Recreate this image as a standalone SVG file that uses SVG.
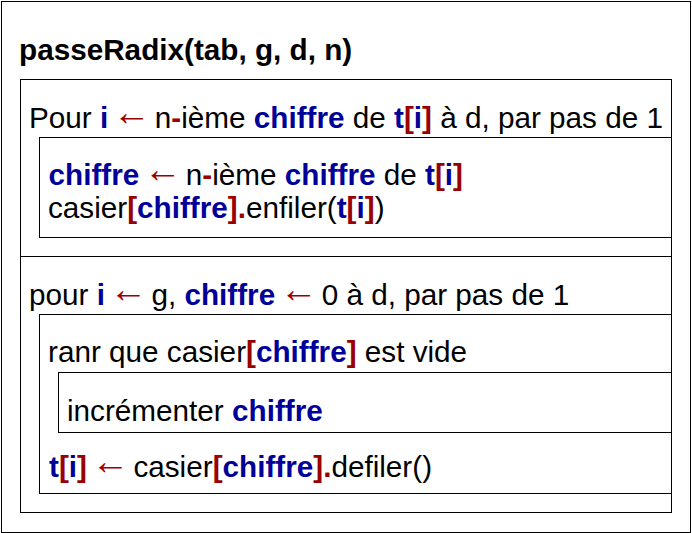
<svg xmlns="http://www.w3.org/2000/svg" width="692" height="533" viewBox="0 0 692 533">
  <style>
    .frame { fill: #fff; stroke: #000; stroke-width: 1; }
    .rule { stroke: #000; stroke-width: 1; }
    text { font-family: "Liberation Sans", Arial, sans-serif; font-size: 29.7px; fill: #000; }
    .title { font-weight: bold; }
    .v { fill: #000099; font-weight: bold; }
    .k { fill: #990000; font-weight: bold; }
    .a { fill: #990000; font-size: 38px; }
  </style>

  <!-- procedure frame -->
  <g id="procedure">
    <rect class="frame" x="1.5" y="1.5" width="689" height="531"/>
    <text class="title" x="19" y="60">passeRadix(tab, g, d, n)</text>
  </g>

  <!-- sequence of the two loops -->
  <g id="sequence">
    <rect class="frame" x="20.5" y="79.5" width="651" height="433"/>
    <line class="rule" x1="20.5" y1="256.5" x2="671.5" y2="256.5"/>
  </g>

  <!-- first loop: distribution into the buckets (arrows are set larger, gaps folded into dx) -->
  <g id="loop-distribute">
    <text x="29" y="128">Pour <tspan class="v">i</tspan><tspan class="a" dx="4.25" dy="-3">←</tspan><tspan dx="4.25" dy="3">n</tspan><tspan class="k">-</tspan>ième <tspan class="v">chiffre</tspan> de <tspan class="v">t</tspan><tspan class="k">[</tspan><tspan class="v">i</tspan><tspan class="k">]</tspan> à d, par pas de 1</text>
    <rect class="frame" x="39.5" y="137.5" width="632" height="100"/>
  </g>
  <g id="stmt-digit">
    <text x="48.5" y="185"><tspan class="v">chiffre</tspan><tspan class="a" dx="4.25" dy="-3">←</tspan><tspan dx="4.25" dy="3">n</tspan><tspan class="k">-</tspan>ième <tspan class="v">chiffre</tspan> de <tspan class="v">t</tspan><tspan class="k">[</tspan><tspan class="v">i</tspan><tspan class="k">]</tspan></text>
  </g>
  <g id="stmt-enqueue">
    <text x="48" y="218">casier<tspan class="k">[</tspan><tspan class="v">chiffre</tspan><tspan class="k">].</tspan>enfiler(<tspan class="v">t</tspan><tspan class="k">[</tspan><tspan class="v">i</tspan><tspan class="k">]</tspan>)</text>
  </g>

  <!-- second loop: collection from the buckets -->
  <g id="loop-collect">
    <text x="29" y="305">pour <tspan class="v">i</tspan><tspan class="a" dx="4.25" dy="-3">←</tspan><tspan dx="4.25" dy="3">g, </tspan><tspan class="v">chiffre</tspan><tspan class="a" dx="4.25" dy="-3">←</tspan><tspan dx="4.25" dy="3">0 à d, par pas de 1</tspan></text>
    <rect class="frame" x="39.5" y="314.5" width="632" height="179"/>
  </g>
  <g id="loop-empty">
    <text x="48" y="362">ranr que casier<tspan class="k">[</tspan><tspan class="v">chiffre</tspan><tspan class="k">]</tspan> est vide</text>
    <rect class="frame" x="58.5" y="372.5" width="613" height="60"/>
  </g>
  <g id="stmt-increment">
    <text x="67" y="421">incrémenter <tspan class="v">chiffre</tspan></text>
  </g>
  <g id="stmt-dequeue">
    <text x="49" y="477"><tspan class="v">t</tspan><tspan class="k">[</tspan><tspan class="v">i</tspan><tspan class="k">]</tspan><tspan class="a" dx="4.25" dy="-3">←</tspan><tspan dx="4.25" dy="3">casier</tspan><tspan class="k">[</tspan><tspan class="v">chiffre</tspan><tspan class="k">].</tspan>defiler()</text>
  </g>

  <!-- no connectors in a structogram; group kept for structure -->
  <g id="connectors"/>
</svg>
